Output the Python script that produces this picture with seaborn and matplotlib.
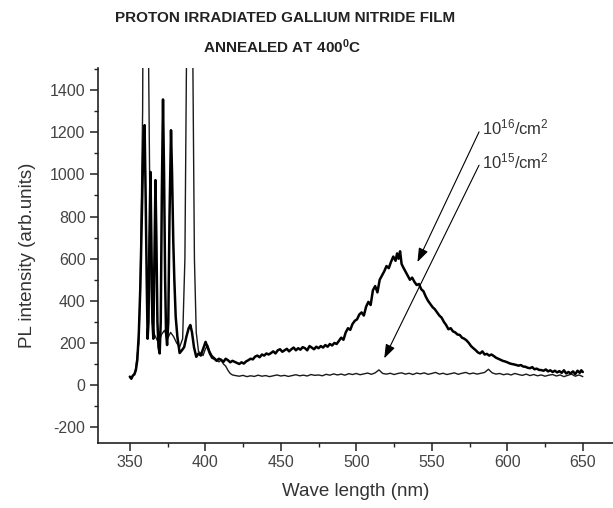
import matplotlib
import numpy as np
import pandas as pd
import seaborn as sns

matplotlib.use("Agg")
import matplotlib.pyplot as plt
from matplotlib.ticker import MultipleLocator

# 10^16 /cm^2 curve (thick)
wl_16 = [350, 351, 352, 353, 354, 355, 356, 357, 358, 359, 359.8, 360.5, 361.2, 361.8, 362.4, 363, 363.7,
         364.3, 365, 365.6, 366.3, 367, 367.6, 368.3, 369, 369.8, 370.5, 371.2, 372, 372.7, 373.4, 374,
         374.7, 375.5, 376.3, 377.3, 378, 378.8, 379.5, 380.4, 381.5, 383, 384.5, 386, 387.5, 389, 390.1,
         391.2, 392.5, 394, 395.5, 397, 398.5, 400.2, 401.5, 403, 404.5, 406, 407.5, 409, 410.5, 412,
         413.5, 415, 416.5, 418, 419.5, 421, 422.5, 424, 425.5, 427, 428.5, 430, 431.5, 433, 434.5, 436,
         437.5, 439, 440.5, 442, 443.5, 445, 446.5, 448, 449.5, 451, 452.5, 454, 455.5, 457, 458.5, 460,
         461.5, 463, 464.5, 466, 467.5, 469, 470.5, 472, 473.5, 475, 476.5, 478, 479.5, 481, 482.5, 484,
         485.5, 487, 488.5, 490, 491.5, 493, 494.5, 496, 497.5, 499, 500.5, 502, 503.5, 505, 506.5, 508,
         509.5, 511, 512.5, 514, 515.5, 517, 518.5, 520, 521.5, 523, 524.5, 526, 527, 528, 529, 530, 531,
         532.5, 534, 535.5, 537, 538.5, 540, 541.5, 543, 544.5, 546, 547.5, 549, 550.5, 552, 553.5, 555,
         556.5, 558, 559.5, 561, 562.5, 564, 565.5, 567, 568.5, 570, 571.5, 573, 574.5, 576, 577.5, 579,
         580.5, 582, 583.5, 585, 586.5, 588, 589.5, 591, 592.5, 594, 595.5, 597, 598.5, 600, 601.5, 603,
         604.5, 606, 607.5, 609, 610.5, 612, 613.5, 615, 616.5, 618, 619.5, 621, 622.5, 624, 625.5, 627,
         628.5, 630, 631.5, 633, 634.5, 636, 637.5, 639, 640.5, 642, 643.5, 645, 646.5, 648, 649, 650]
pl_16 = [40, 30, 45, 50, 70, 120, 250, 470, 800, 1150, 1234, 900, 500, 220, 300, 700, 1012,
         700, 300, 220, 600, 973, 700, 300, 180, 150, 300, 900, 1356, 1000, 500, 250,
         190, 300, 800, 1210, 1000, 680, 500, 324, 230, 152, 165, 180, 230, 270, 285,
         250, 180, 134, 150, 140, 170, 205, 180, 150, 130, 125, 115, 125, 120, 110,
         125, 118, 108, 115, 110, 105, 100, 108, 102, 112, 118, 125, 122, 135, 140, 132,
         145, 140, 150, 145, 152, 160, 150, 165, 170, 158, 165, 172, 160, 170, 178, 165,
         175, 168, 180, 175, 165, 185, 178, 170, 182, 175, 185, 178, 190, 182, 195, 188,
         200, 195, 210, 225, 215, 250, 270, 262, 290, 305, 312, 335, 345, 330, 372, 395,
         380, 450, 470, 440, 500, 520, 540, 565, 555, 585, 610, 590, 625, 600, 635, 575, 560,
         540, 520, 500, 510, 490, 475, 480, 455, 445, 420, 400, 385, 370, 360, 345, 330,
         320, 300, 285, 265, 270, 255, 250, 240, 238, 225, 220, 212, 200, 185, 175, 166,
         155, 150, 160, 145, 148, 140, 145, 138, 130, 125, 120, 115, 112, 108, 103, 100,
         98, 95, 92, 95, 88, 87, 82, 80, 85, 75, 78, 72, 71, 68, 74, 65,
         70, 62, 68, 60, 66, 58, 70, 55, 62, 55, 65, 52, 68, 58, 70, 62]

# 10^15 /cm^2 curve (thin)
wl_15 = [350, 351, 352, 353, 354, 355, 356, 357, 358.5, 359.5, 360.5, 361.5, 362.5, 363.5, 364.5, 365.5,
         367, 369, 371, 373, 375, 377, 379, 381, 383, 385, 386.5, 387.5, 388.5, 389.5, 390.5, 391.8,
         392.8, 394, 395.5, 397, 398.5, 400, 401.5, 403, 404.5, 406, 407.5, 409, 410.5, 412, 413.5, 415,
         416.5, 418, 420, 422.5, 425, 427.5, 430, 432.5, 435, 437.5, 440, 442.5, 445, 447.5, 450, 452.5,
         455, 457.5, 460, 462.5, 465, 467.5, 470, 472.5, 475, 477.5, 480, 482.5, 485, 487.5, 490, 492.5,
         495, 497.5, 500, 502.5, 505, 507.5, 510, 512.5, 515, 517.5, 520, 522.5, 525, 527.5, 530, 532.5,
         535, 537.5, 540, 542.5, 545, 547.5, 550, 552.5, 555, 557.5, 560, 562.5, 565, 567.5, 570, 572.5,
         575, 577.5, 580, 582.5, 585, 587.5, 590, 592.5, 595, 597.5, 600, 602.5, 605, 607.5, 610, 612.5,
         615, 617.5, 620, 622.5, 625, 627.5, 630, 632.5, 635, 637.5, 640, 642.5, 645, 647.5, 650]
pl_15 = [40, 30, 45, 55, 80, 150, 200, 500, 1300, 3000, 4000, 3000, 1500, 700, 350, 250,
         230, 200, 240, 260, 220, 250, 230, 200, 180, 220, 600, 1500, 3000, 3800, 3000, 1500,
         600, 250, 160, 150, 140, 170, 190, 160, 140, 130, 120, 110, 118, 100, 90, 70,
         55, 48, 45, 42, 46, 40, 44, 41, 47, 42, 45, 40, 44, 48, 43, 46,
         41, 45, 49, 44, 47, 43, 50, 46, 48, 44, 51, 47, 53, 48, 52, 47,
         54, 50, 55, 49, 53, 57, 51, 58, 72, 55, 52, 56, 50, 55, 58, 52,
         56, 50, 57, 53, 58, 51, 55, 60, 52, 56, 50, 54, 58, 51, 56, 60,
         53, 57, 52, 56, 60, 75, 58, 52, 55, 49, 53, 48, 55, 50, 46, 52,
         45, 50, 44, 48, 42, 47, 50, 43, 48, 40, 46, 52, 42, 48, 40]

dose_labels = ["10$^{16}$/cm$^{2}$", "10$^{15}$/cm$^{2}$"]

sns.set_style("ticks")
plt.rcParams["font.family"] = ["Liberation Sans", "DejaVu Sans"]
plt.rcParams["mathtext.fontset"] = "custom"
plt.rcParams["mathtext.rm"] = "Liberation Sans"
plt.rcParams["mathtext.it"] = "Liberation Sans"
plt.rcParams["mathtext.bf"] = "Liberation Sans:bold"
plt.rcParams["axes.unicode_minus"] = False

df16 = pd.DataFrame({"wl": wl_16, "pl": pl_16})
df15 = pd.DataFrame({"wl": wl_15, "pl": pl_15})

fig = plt.figure(figsize=(6.13, 5.08), dpi=100)
ax = fig.add_axes([0.160, 0.128, 0.84, 0.738])

sns.lineplot(data=df15, x="wl", y="pl", ax=ax, sort=False, estimator=None,
             color="#1a1a1a", linewidth=1.0)
sns.lineplot(data=df16, x="wl", y="pl", ax=ax, sort=False, estimator=None,
             color="black", linewidth=1.8)

ax.set_xlim(329, 670)
ax.set_ylim(-275, 1505)
ax.xaxis.set_major_locator(MultipleLocator(50))
ax.xaxis.set_minor_locator(MultipleLocator(25))
ax.yaxis.set_major_locator(MultipleLocator(200))
ax.yaxis.set_minor_locator(MultipleLocator(100))
ax.tick_params(which="major", direction="out", length=6, width=1.1, labelsize=11.5,
               labelcolor="#444444", color="#222222", pad=3)
ax.tick_params(which="minor", direction="out", length=3, width=1.0, color="#222222")
for side in ["top", "right"]:
    ax.spines[side].set_visible(False)
for side in ["left", "bottom"]:
    ax.spines[side].set_linewidth(1.2)
    ax.spines[side].set_color("#222222")

ax.set_xlabel("Wave length (nm)", fontsize=13.5, color="#333333", labelpad=9)
ax.set_ylabel("PL intensity (arb.units)", fontsize=13.5, color="#333333", labelpad=10)

arrow = dict(arrowstyle="-|>,head_length=0.7,head_width=0.25", color="black",
             lw=0.8, shrinkA=0, shrinkB=0, mutation_scale=12)
ax.annotate("", xy=(540.5, 584), xytext=(581.3, 1202), arrowprops=arrow)
ax.annotate("", xy=(518.5, 127), xytext=(581.3, 1044), arrowprops=arrow)
ax.text(583, 1222, dose_labels[0], fontsize=12, color="#333333", ha="left", va="center")
ax.text(583, 1064, dose_labels[1], fontsize=12, color="#333333", ha="left", va="center")

fig.text(285 / 613, 1 - 18 / 508, "PROTON IRRADIATED GALLIUM NITRIDE FILM",
         fontsize=11, fontweight="bold", color="#222222", ha="center", va="center")
fig.text(282 / 613, 1 - 47 / 508, "ANNEALED AT 400$^{\\mathbf{0}}$C",
         fontsize=11, fontweight="bold", color="#222222", ha="center", va="center")

fig.savefig("out.png", dpi=100)
